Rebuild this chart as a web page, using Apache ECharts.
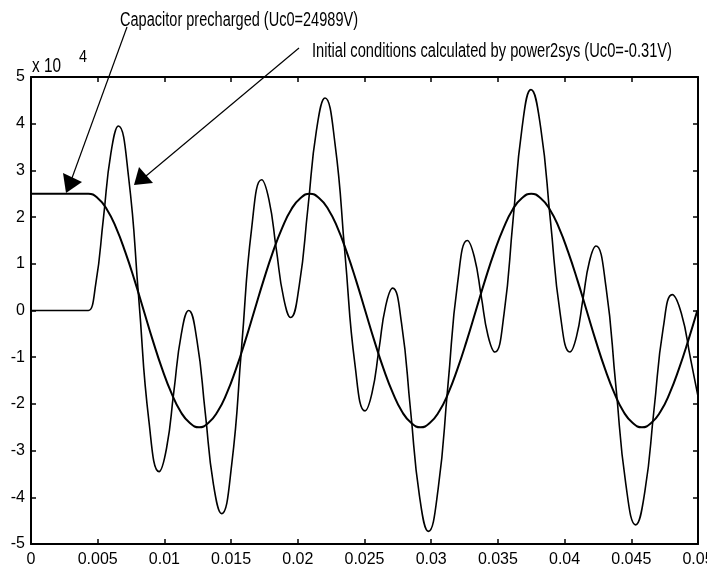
<!DOCTYPE html>
<html><head><meta charset="utf-8">
<script src="https://cdn.jsdelivr.net/npm/echarts@6/dist/echarts.min.js"></script>
<style>html,body{margin:0;padding:0;background:#fff}#c{width:707px;height:569px}</style>
</head><body><div id="c"></div>
<script>
// Time (s) and voltage (x 10^4 V) of the precharged capacitor case
const tPre = [0, 0.004, 0.0043, 0.00499, 0.00568, 0.00638, 0.00707, 0.00776, 0.00845, 0.00914, 0.00983, 0.01053,
  0.01122, 0.01191, 0.0126, 0.01329, 0.01398, 0.01468, 0.01537, 0.01606, 0.01675, 0.01744, 0.01813, 0.01883,
  0.01952, 0.02021, 0.0209, 0.02159, 0.02228, 0.02298, 0.02367, 0.02436, 0.02505, 0.02574, 0.02643, 0.02713,
  0.02782, 0.02851, 0.0292, 0.02989, 0.03058, 0.03128, 0.03197, 0.03266, 0.03335, 0.03404, 0.03473, 0.03543,
  0.03612, 0.03681, 0.0375, 0.03819, 0.03888, 0.03958, 0.04027, 0.04096, 0.04165, 0.04234, 0.04303, 0.04373,
  0.04442, 0.04511, 0.0458, 0.04649, 0.04718, 0.04788, 0.04857, 0.04926, 0.04995];
const uPre = [2.5, 2.5, 2.5, 2.41, 2.17, 1.77, 1.25, 0.65, 0, -0.65, -1.25, -1.77,
  -2.17, -2.41, -2.5, -2.41, -2.17, -1.77, -1.25, -0.65, 0, 0.65, 1.25, 1.77,
  2.17, 2.41, 2.5, 2.41, 2.17, 1.77, 1.25, 0.65, 0, -0.65, -1.25, -1.77,
  -2.17, -2.41, -2.5, -2.41, -2.17, -1.77, -1.25, -0.65, 0, 0.65, 1.25, 1.77,
  2.17, 2.41, 2.5, 2.41, 2.17, 1.77, 1.25, 0.65, 0, -0.65, -1.25, -1.77,
  -2.17, -2.41, -2.5, -2.41, -2.17, -1.77, -1.25, -0.65, 0];

// Time (s) and voltage (x 10^4 V) with initial conditions from power2sys
const tInit = [0, 0.004, 0.0043, 0.00486, 0.00543, 0.00599, 0.00655, 0.00731, 0.00808, 0.00884, 0.0096,
  0.01016, 0.01071, 0.01127, 0.01182, 0.01244, 0.01306, 0.01367, 0.01429, 0.01504, 0.01579, 0.01654, 0.01729,
  0.01784, 0.01838, 0.01893, 0.01947, 0.02011, 0.02076, 0.0214, 0.02204, 0.02279, 0.02354, 0.02429, 0.02504,
  0.02556, 0.02608, 0.02659, 0.02711, 0.02778, 0.02845, 0.02912, 0.02979, 0.03052, 0.03125, 0.03198, 0.03271,
  0.03323, 0.03375, 0.03426, 0.03478, 0.03546, 0.03613, 0.03681, 0.03748, 0.03821, 0.03894, 0.03967, 0.0404,
  0.04089, 0.04138, 0.04186, 0.04235, 0.0431, 0.04384, 0.04459, 0.04533, 0.04602, 0.0467, 0.04739, 0.04807,
  0.04875, 0.04944, 0.05];
const uInit = [0, 0, 0, 0.58, 1.98, 3.37, 3.95, 2.87, 0.25, -2.37, -3.45,
  -2.95, -1.73, -0.5, 0, -0.64, -2.18, -3.71, -4.35, -3.31, -0.78, 1.76, 2.8,
  2.37, 1.33, 0.28, -0.15, 0.54, 2.2, 3.86, 4.55, 3.57, 1.2, -1.17, -2.15,
  -1.77, -0.84, 0.1, 0.48, -0.28, -2.13, -3.97, -4.73, -3.82, -1.62, 0.59, 1.5,
  1.15, 0.31, -0.54, -0.89, -0.07, 1.92, 3.91, 4.73, 3.91, 1.92, -0.07, -0.89,
  -0.56, 0.25, 1.05, 1.38, 0.51, -1.61, -3.72, -4.59, -3.87, -2.13, -0.38, 0.34,
  -0.06, -1.03, -1.84];

const xTickLabels = ['0', '0.005', '0.01', '0.015', '0.02', '0.025', '0.03', '0.035', '0.04', '0.045', '0.05'];
const yTickLabels = ['-5', '-4', '-3', '-2', '-1', '0', '1', '2', '3', '4', '5'];
const note1 = 'Capacitor precharged (Uc0=24989V)';
const note2 = 'Initial conditions calculated by power2sys (Uc0=-0.31V)';
const scaleText = 'x 10';
const scaleExp = '4';

// ---- font selection ----
const ctx = document.createElement('canvas').getContext('2d');
function hasFont(name) {
  const s = '0.005 Capacitor mmmwwwiiil';
  ctx.font = '40px monospace'; const a = ctx.measureText(s).width;
  ctx.font = "40px '" + name + "', monospace"; const b = ctx.measureText(s).width;
  return Math.abs(a - b) > 0.5;
}
let narrow = null;
for (const n of ['Liberation Sans Narrow', 'Arial Narrow', 'Nimbus Sans Narrow']) { if (hasFont(n)) { narrow = n; break; } }
const BASE = narrow ? "'" + narrow + "'" : "'Liberation Sans', Arial, sans-serif";
const TICK_SIZE = narrow ? 18 : 16;
function fitText(text, size, targetW, x, baselineY) {
  ctx.font = size + 'px ' + BASE;
  const w = ctx.measureText(text).width;
  const sx = targetW / w;
  // zrender 'top' text: baseline sits about lineHeight/2 + 0.35em below y
  const y = baselineY - (size / 2 + 0.35 * size);
  return {type: 'text', x: x, y: y, scaleX: sx, z: 100,
    style: {text: text, font: size + 'px ' + BASE, fill: '#000', verticalAlign: 'top', align: 'left'}};
}

const chart = echarts.init(document.getElementById('c'), null, {renderer: 'canvas'});
const axisCommon = {
  axisLine: {show: true, onZero: false, lineStyle: {color: '#000', width: 2}},
  axisTick: {show: true, inside: true, length: 5, lineStyle: {color: '#000', width: 1.5}},
  splitLine: {show: false}
};
chart.setOption({
  animation: false,
  backgroundColor: '#fff',
  grid: {left: 31, right: 9, top: 77, bottom: 25, containLabel: false, outerBoundsMode: 'none'},
  xAxis: [
    Object.assign({type: 'value', min: 0, max: 0.05, interval: 0.005, position: 'bottom',
      axisLabel: {show: true, margin: 8, color: '#000', fontFamily: BASE, fontSize: TICK_SIZE,
        showMinLabel: true, showMaxLabel: true, hideOverlap: false,
        formatter: v => xTickLabels[Math.round(v / 0.005)]}}, axisCommon),
    Object.assign({type: 'value', min: 0, max: 0.05, interval: 0.005, position: 'top',
      axisLabel: {show: false}}, axisCommon)
  ],
  yAxis: [
    Object.assign({type: 'value', min: -5, max: 5, interval: 1, position: 'left',
      axisLabel: {show: true, margin: 6, color: '#000', fontFamily: BASE, fontSize: TICK_SIZE,
        showMinLabel: true, showMaxLabel: true,
        formatter: v => yTickLabels[Math.round(v + 5)]}}, axisCommon),
    Object.assign({type: 'value', min: -5, max: 5, interval: 1, position: 'right',
      axisLabel: {show: false}}, axisCommon)
  ],
  series: [
    {type: 'line', name: 'precharged', data: tPre.map((t, i) => [t, uPre[i]]), smooth: 0.5, showSymbol: false,
      lineStyle: {color: '#000', width: 2}, xAxisIndex: 0, yAxisIndex: 0, clip: true},
    {type: 'line', name: 'power2sys', data: tInit.map((t, i) => [t, uInit[i]]), smooth: 0.5, showSymbol: false,
      lineStyle: {color: '#000', width: 1.6}, xAxisIndex: 0, yAxisIndex: 0, clip: true}
  ],
  graphic: [
    fitText(note1, 20, 238, 120, 27),
    fitText(note2, 20, 360, 312, 58),
    fitText(scaleText, 20, 29, 32, 73),
    fitText(scaleExp, 16, 8, 79, 63),
    {type: 'line', z: 100, shape: {x1: 127, y1: 27, x2: 72, y2: 178}, style: {stroke: '#000', lineWidth: 1.2}},
    {type: 'polygon', z: 100, shape: {points: [[63, 173], [82, 182], [66, 193]]}, style: {fill: '#000'}},
    {type: 'line', z: 100, shape: {x1: 299, y1: 48, x2: 146, y2: 176}, style: {stroke: '#000', lineWidth: 1.2}},
    {type: 'polygon', z: 100, shape: {points: [[139, 167], [153, 183], [134, 185]]}, style: {fill: '#000'}}
  ]
});
</script></body></html>
